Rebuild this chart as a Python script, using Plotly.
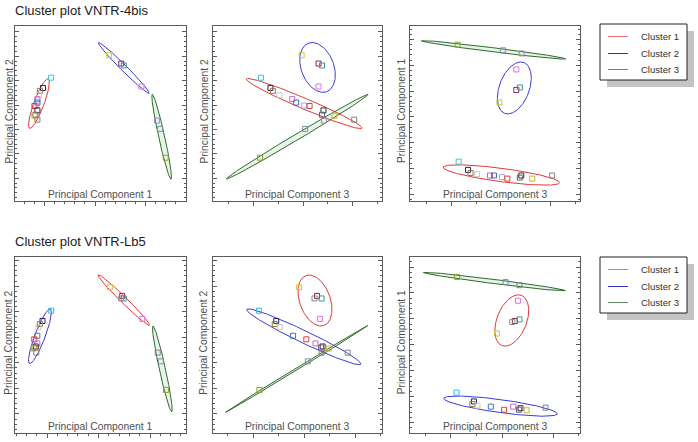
import numpy as np
import plotly.graph_objects as go

W, H = 698, 442

# ---------------- data: VNTR-4bis (top row) ----------------
A_C1_COLORS = ["#3cc8c8", "#1e1e78", "#9a7a3a", "#c8c8c8", "#c864c8", "#3c6cc0",
               "#b4a0dc", "#dc3c3c", "#303030", "#606070", "#c8b432", "#808080"]
A_C1_PC1 = [-0.87, -1.03, -1.09, -1.11, -1.14, -1.14, -1.17, -1.20, -1.14, -1.18, -1.20, -1.14]
A_C1_PC2 = [0.56, 0.35, 0.29, 0.20, 0.12, 0.05, -0.01, -0.02, -0.11, -0.20, -0.22, -0.30]
A_C1_PC3 = [-0.85, -0.66, -0.61, -0.48, -0.22, -0.14, 0.02, 0.13, 0.41, 0.38, 0.63, 1.03]

A_C2_COLORS = ["#c8c832", "#8c2850", "#3c9696", "#dc78dc"]
A_C2_PC1 = [0.28, 0.52, 0.57, 0.92]
A_C2_PC2 = [1.02, 0.85, 0.81, 0.38]
A_C2_PC3 = [-0.03, 0.31, 0.38, 0.31]

A_C3_COLORS = ["#8ca028", "#7890aa", "#9c8cb4"]
A_C3_PC1 = [1.40, 1.29, 1.23]
A_C3_PC2 = [-1.08, -0.49, -0.32]
A_C3_PC3 = [-0.87, 0.04, 0.42]

# ellipses: [cx, cy, semi-major, semi-minor, angle deg] per panel, per cluster
A_ELL_P1 = [[-1.11, 0.03, 0.54, 0.10, 70], [0.57, 0.76, 0.72, 0.06, -46], [1.32, -0.65, 0.89, 0.06, -78]]
A_ELL_P2 = [[0.02, 0.03, 1.27, 0.11, -23.4], [0.29, 0.77, 0.53, 0.33, 110], [-0.12, -0.65, 1.67, 0.06, 31.2]]
A_ELL_P3 = [[0.01, -1.13, 1.18, 0.13, -7.3], [0.27, 0.56, 0.53, 0.30, 68], [-0.15, 1.30, 1.46, 0.04, -6.9]]

# ---------------- data: VNTR-Lb5 (bottom row) ----------------
B_C1_COLORS = ["#c8c832", "#8c2850", "#3c9696", "#8a8a8a", "#e070e0"]
B_C1_PC1 = [0.22, 0.46, 0.49, 0.44, 0.85]
B_C1_PC2 = [0.98, 0.81, 0.76, 0.76, 0.36]
B_C1_PC3 = [-0.10, 0.25, 0.34, 0.20, 0.31]

B_C2_COLORS = ["#3cb4dc", "#1e1e78", "#9a7a3a", "#c8c8c8", "#3c78c8", "#dc3c3c",
               "#c864c8", "#402040", "#606070", "#c8b432", "#808080"]
B_C2_PC1 = [-0.92, -1.09, -1.14, -1.17, -1.19, -1.25, -1.19, -1.22, -1.25, -1.26, -1.21]
B_C2_PC2 = [0.52, 0.32, 0.26, 0.20, 0.03, -0.04, -0.12, -0.18, -0.20, -0.22, -0.30]
B_C2_PC3 = [-0.89, -0.55, -0.58, -0.48, -0.22, 0.04, 0.22, 0.36, 0.33, 0.48, 0.85]

B_C3_COLORS = ["#8ca028", "#7890aa", "#8c7c8c"]
B_C3_PC1 = [1.31, 1.21, 1.15]
B_C3_PC2 = [-1.03, -0.47, -0.30]
B_C3_PC3 = [-0.88, 0.07, 0.34]

B_ELL_P1 = [[0.49, 0.73, 0.70, 0.06, -44.7], [-1.14, 0.02, 0.57, 0.10, 69.2], [1.24, -0.62, 0.86, 0.06, -77.8]]
B_ELL_P2 = [[0.21, 0.72, 0.52, 0.30, 110], [-0.01, 0.01, 1.24, 0.12, -25.6], [-0.15, -0.62, 1.63, 0.02, 31.3]]
B_ELL_P3 = [[0.19, 0.47, 0.52, 0.29, 68], [-0.03, -1.18, 1.12, 0.125, -7.7], [-0.15, 1.22, 1.40, 0.04, -7.2]]

TITLES = ["Cluster plot VNTR-4bis", "Cluster plot VNTR-Lb5"]
CLUSTER_NAMES = ["Cluster 1", "Cluster 2", "Cluster 3"]
X_TITLES = ["Principal Component 1", "Principal Component 3", "Principal Component 3"]
Y_TITLES = ["Principal Component 2", "Principal Component 2", "Principal Component 1"]

# axis ranges per row
A_RANGES = dict(p1x=[-1.594, 1.792], pc2=[-1.961, 1.613], pc3=[-1.828, 1.590], p3y=[-1.629, 1.757])
B_RANGES = dict(p1x=[-1.634, 1.690], pc2=[-1.873, 1.577], pc3=[-1.80, 1.524], p3y=[-1.698, 1.699])

# ---------------- styling ----------------
ELL_COLORS = ["#e03838", "#3a3ad6", "#2f6a2f"]
LEG_COLORS = ["#e87070", "#3030c0", "#5f8f5f"]
LINE = "#5a5a5a"
FONT = "Liberation Sans, Arial, sans-serif"

COLS = [(14.5, 185.5), (212.5, 382.0), (410.0, 580.0)]
ROWS = [(26.3, 200.7), (256.7, 433.0)]


def px_x(x):
    return x / W


def px_y(y):
    return 1 - y / H


def ellipse(p, n=181):
    cx, cy, a, b, ang = p
    t = np.linspace(0, 2 * np.pi, n)
    th = np.deg2rad(ang)
    xs = cx + a * np.cos(t) * np.cos(th) - b * np.sin(t) * np.sin(th)
    ys = cy + a * np.cos(t) * np.sin(th) + b * np.sin(t) * np.cos(th)
    return xs, ys


fig = go.Figure()
layout = dict(width=W, height=H, margin=dict(l=0, r=0, t=0, b=0),
              paper_bgcolor="white", plot_bgcolor="white", showlegend=False)

datasets = [
    dict(cl=[(A_C1_PC1, A_C1_PC2, A_C1_PC3, A_C1_COLORS),
             (A_C2_PC1, A_C2_PC2, A_C2_PC3, A_C2_COLORS),
             (A_C3_PC1, A_C3_PC2, A_C3_PC3, A_C3_COLORS)],
         ell=[A_ELL_P1, A_ELL_P2, A_ELL_P3], rng=A_RANGES),
    dict(cl=[(B_C1_PC1, B_C1_PC2, B_C1_PC3, B_C1_COLORS),
             (B_C2_PC1, B_C2_PC2, B_C2_PC3, B_C2_COLORS),
             (B_C3_PC1, B_C3_PC2, B_C3_PC3, B_C3_COLORS)],
         ell=[B_ELL_P1, B_ELL_P2, B_ELL_P3], rng=B_RANGES),
]

common = dict(showgrid=False, zeroline=False, showticklabels=False,
              linecolor=LINE, linewidth=1, tickcolor=LINE, tickwidth=1)

annotations = []
shapes = []

for r, ds in enumerate(datasets):
    rng = ds["rng"]
    top, bot = ROWS[r]
    specs = [
        (rng["p1x"], rng["pc2"], 1.0, 0.2, 0.5, 0.1),
        (rng["pc3"], rng["pc2"], 1.0, 0.5, 0.5, 0.1),
        (rng["pc3"], rng["p3y"], 1.0, 0.5, 0.5, 0.1),
    ]
    for c in range(3):
        i = r * 3 + c + 1
        xr, yr, xd, xm, yd, ym = specs[c]
        xn = "xaxis" if i == 1 else f"xaxis{i}"
        yn = "yaxis" if i == 1 else f"yaxis{i}"
        xref = "x" if i == 1 else f"x{i}"
        yref = "y" if i == 1 else f"y{i}"
        layout[xn] = dict(common, domain=[px_x(COLS[c][0]), px_x(COLS[c][1])], range=xr,
                          anchor=yref, showline=True, mirror=True, ticks="outside",
                          ticklen=4, tick0=0, dtick=xd,
                          minor=dict(ticks="outside", ticklen=2, dtick=xm, tick0=0,
                                     tickcolor=LINE, showgrid=False))
        layout[f"xaxis{i + 6}"] = dict(common, range=xr, overlaying=xref, side="top",
                                       anchor=yref, showline=False, ticks="inside",
                                       ticklen=4, tick0=0, dtick=xd,
                                       minor=dict(ticks="inside", ticklen=2, dtick=xm, tick0=0,
                                                  tickcolor=LINE, showgrid=False))
        layout[yn] = dict(common, domain=[px_y(bot), px_y(top)], range=yr, anchor=xref,
                          showline=True, mirror="allticks", ticks="inside", ticklen=4,
                          tick0=0, dtick=yd,
                          minor=dict(ticks="inside", ticklen=2, dtick=ym, tick0=0,
                                     tickcolor=LINE, showgrid=False))

        for k in range(3):
            ex, ey = ellipse(ds["ell"][c][k])
            fig.add_trace(go.Scatter(
                x=ex, y=ey, mode="lines", xaxis=xref, yaxis=yref,
                line=dict(color=ELL_COLORS[k], width=1),
                fill="toself" if k == 2 else None,
                fillcolor="rgba(150,205,150,0.22)" if k == 2 else None,
                hoverinfo="skip"))
        for k in range(3):
            pc1, pc2, pc3, cols = ds["cl"][k]
            if c == 0:
                px, py = pc1, pc2
            elif c == 1:
                px, py = pc3, pc2
            else:
                px, py = pc3, pc1
            fig.add_trace(go.Scatter(
                x=px, y=py, mode="markers", xaxis=xref, yaxis=yref,
                marker=dict(symbol="square-open", size=5, color=cols, line=dict(width=1))))

        cx = (COLS[c][0] + COLS[c][1]) / 2
        annotations.append(dict(text=X_TITLES[c], x=px_x(cx), y=px_y(bot - 6.3),
                                xref="paper", yref="paper", xanchor="center", yanchor="middle",
                                showarrow=False, font=dict(family=FONT, size=10.3, color="#505050")))
        ytx = [9.0, 204.0, 401.5][c]
        annotations.append(dict(text=Y_TITLES[c], x=px_x(ytx), y=px_y((top + bot) / 2 - 2),
                                xref="paper", yref="paper", xanchor="center", yanchor="middle",
                                textangle=-90, showarrow=False,
                                font=dict(family=FONT, size=10.3, color="#505050")))

    ty = [10.5, 241.5][r]
    annotations.append(dict(text=TITLES[r], x=px_x(12.5), y=px_y(ty), xref="paper", yref="paper",
                            xanchor="left", yanchor="middle", showarrow=False,
                            font=dict(family=FONT, size=13, color="#1a1a1a")))

    dy = [0, 233][r]
    shapes.append(dict(type="rect", xref="paper", yref="paper",
                       x0=px_x(607), x1=px_x(694), y0=px_y(87 + dy), y1=px_y(31 + dy),
                       fillcolor="#c4c4c4", line=dict(width=0), layer="above"))
    shapes.append(dict(type="rect", xref="paper", yref="paper",
                       x0=px_x(600), x1=px_x(687), y0=px_y(80 + dy), y1=px_y(24 + dy),
                       fillcolor="white", line=dict(color="#202020", width=1), layer="above"))
    for k, ly in enumerate([36, 53, 69]):
        shapes.append(dict(type="rect", xref="paper", yref="paper",
                           x0=px_x(608), x1=px_x(628), y0=px_y(ly + dy + 1), y1=px_y(ly + dy),
                           fillcolor=LEG_COLORS[k], line=dict(width=0), layer="above"))
        annotations.append(dict(text=CLUSTER_NAMES[k], x=px_x(639), y=px_y(ly + dy),
                                xref="paper", yref="paper", xanchor="left", yanchor="middle",
                                showarrow=False, font=dict(family=FONT, size=9.5, color="#303030")))

layout["annotations"] = annotations
layout["shapes"] = shapes
fig.update_layout(**layout)
fig.write_html("out.html", config={"displayModeBar": False},
               post_script="document.body.style.margin='0px';document.body.style.overflow='hidden';")
